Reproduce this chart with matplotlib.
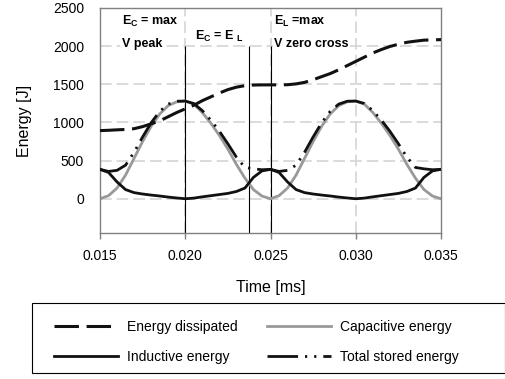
import matplotlib
matplotlib.use('Agg')
import matplotlib.pyplot as plt
from matplotlib.patches import Rectangle

plt.rcParams['font.family'] = ['Liberation Sans', 'DejaVu Sans']
plt.rcParams['mathtext.fontset'] = 'custom'
plt.rcParams['mathtext.rm'] = 'Liberation Sans'
plt.rcParams['mathtext.bf'] = 'Liberation Sans:bold'

# time samples [ms]
time = [0.0150, 0.0155, 0.0160, 0.0165, 0.0170, 0.0175, 0.0180, 0.0185, 0.0190, 0.0195,
        0.0200, 0.0205, 0.0210, 0.0215, 0.0220, 0.0225, 0.0230, 0.0235, 0.0240, 0.0245,
        0.0250, 0.0255, 0.0260, 0.0265, 0.0270, 0.0275, 0.0280, 0.0285, 0.0290, 0.0295,
        0.0300, 0.0305, 0.0310, 0.0315, 0.0320, 0.0325, 0.0330, 0.0335, 0.0340, 0.0345,
        0.0350]

dissipated = [893, 897, 903, 908, 918, 945, 982, 1020, 1075, 1130,
              1178, 1225, 1285, 1335, 1385, 1430, 1462, 1482, 1490, 1492,
              1492, 1492, 1494, 1505, 1525, 1560, 1600, 1640, 1690, 1745,
              1800, 1855, 1910, 1955, 1995, 2025, 2050, 2065, 2078, 2082,
              2085]

capacitive = [0, 40, 140, 310, 530, 750, 950, 1110, 1220, 1270,
              1280, 1240, 1130, 990, 830, 650, 450, 270, 120, 35,
              0, 40, 140, 310, 530, 750, 950, 1110, 1220, 1270,
              1280, 1240, 1130, 990, 830, 650, 450, 270, 120, 35,
              0]

inductive = [385, 345, 220, 120, 80, 62, 48, 36, 22, 10,
             0, 8, 25, 40, 55, 70, 95, 140, 280, 365,
             385, 345, 220, 120, 80, 62, 48, 36, 22, 10,
             0, 8, 25, 40, 55, 70, 95, 140, 280, 365,
             385]

total = [385, 358, 372, 440, 610, 810, 995, 1145, 1240, 1278,
         1280, 1248, 1155, 1030, 885, 720, 545, 410, 392, 380,
         385, 358, 372, 440, 610, 810, 995, 1145, 1240, 1278,
         1280, 1248, 1155, 1030, 885, 720, 545, 410, 392, 380,
         385]

markers_t = [0.0200, 0.02376, 0.0250]
yticks = [0, 500, 1000, 1500, 2000, 2500]
xticks = [0.015, 0.020, 0.025, 0.030, 0.035]

fig = plt.figure(figsize=(5.06, 3.79), dpi=100)
ax = fig.add_axes([0.1976, 0.385, 0.674, 0.594])

gridc = '#d4d4d4'
for y in yticks[:-1]:
    ax.axhline(y, color=gridc, lw=1.2, linestyle=(0, (7, 3)), zorder=0)
for x in xticks[1:-1]:
    ax.axvline(x, color=gridc, lw=1.2, linestyle=(0, (7, 3)), zorder=0)

ax.vlines(markers_t, -450, 2000, color='k', lw=0.8, zorder=1)

l_dis, = ax.plot(time, dissipated, color='#111111', lw=2.2, linestyle=(0, (8, 2.5)), zorder=3)
l_cap, = ax.plot(time, capacitive, color='#999999', lw=2, zorder=2)
l_ind, = ax.plot(time, inductive, color='#111111', lw=2, zorder=3)
l_tot, = ax.plot(time, total, color='#111111', lw=2,
                 linestyle=(0, (11, 2.5, 0.8, 2.5, 0.8, 2.5)), zorder=3)

ax.set_xlim(0.015, 0.035)
ax.set_ylim(-450, 2500)
ax.set_xticks(xticks)
ax.set_xticklabels(['%.3f' % v for v in xticks])
ax.set_yticks(yticks)
ax.tick_params(axis='y', length=0, pad=11.5, labelsize=10)
ax.tick_params(axis='x', length=4.5, direction='out', color='#808080', width=1, pad=7, labelsize=10)
for s in ax.spines.values():
    s.set_color('#808080')
    s.set_linewidth(1)

ax.set_ylabel('Energy [J]', fontsize=11.5, labelpad=15)
ax.set_xlabel('Time [ms]', fontsize=11.5, labelpad=12)

box = dict(facecolor='white', edgecolor='none', pad=1)
ax.text(0.01628, 2320, r'E$_\mathbf{C}$ = max', fontsize=9, fontweight='bold', va='center', bbox=box)
ax.text(0.01628, 2025, 'V peak', fontsize=9, fontweight='bold', va='center', bbox=box)
ax.text(0.02057, 2130, r'E$_\mathbf{C}$ = E $_\mathbf{L}$', fontsize=9, fontweight='bold', va='center', bbox=box)
ax.text(0.02521, 2320, r'E$_\mathbf{L}$ =max', fontsize=9, fontweight='bold', va='center', bbox=box)
ax.text(0.02521, 2025, 'V zero cross', fontsize=9, fontweight='bold', va='center', bbox=box)

# legend frame drawn separately so the padding can match
fig.patches.append(Rectangle((32 / 506, 1 - 373 / 379), 473 / 506, 70 / 379,
                             transform=fig.transFigure, fill=False,
                             edgecolor='black', lw=0.8))
leg = fig.legend([l_dis, l_ind, l_cap, l_tot],
                 ['Energy dissipated', 'Inductive energy', 'Capacitive energy', 'Total stored energy'],
                 ncol=2, loc='center left', bbox_to_anchor=(54 / 506, 1 - 342 / 379),
                 fontsize=10, handlelength=4.6, handletextpad=0.65, columnspacing=2.1,
                 labelspacing=1.15, frameon=False, borderpad=0, borderaxespad=0)

fig.savefig('out.png', dpi=100)
